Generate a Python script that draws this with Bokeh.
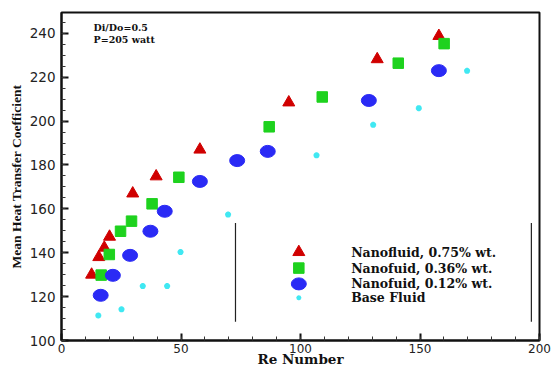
from bokeh.plotting import figure
from bokeh.models import Range1d, FixedTicker
from bokeh.core.properties import value
from bokeh.embed import file_html
from bokeh.resources import INLINE

# Data
re_075 = [12.6, 15.6, 17.9, 20.1, 29.8, 39.6, 57.9, 95.1, 132.1, 157.9]
h_075 = [130.0, 138.0, 142.3, 147.3, 167.0, 174.8, 187.0, 208.5, 228.2, 238.8]

re_036 = [16.6, 20.0, 24.7, 29.3, 37.9, 49.1, 86.9, 109.1, 140.9, 160.1]
h_036 = [129.8, 139.2, 149.8, 154.4, 162.3, 174.4, 197.4, 211.0, 226.4, 235.3]

re_012 = [16.4, 21.5, 28.7, 37.2, 43.2, 57.9, 73.5, 86.3, 128.6, 157.9]
h_012 = [120.6, 129.7, 138.8, 149.8, 158.9, 172.5, 182.0, 186.2, 209.4, 223.0]

re_base = [15.4, 25.1, 34.0, 44.2, 49.8, 69.7, 106.7, 130.4, 149.5, 169.7]
h_base = [111.4, 114.2, 124.8, 124.8, 140.3, 157.4, 184.4, 198.3, 205.9, 222.9]

series_labels = ["Nanofluid, 0.75% wt.", "Nanofuid, 0.36% wt.", "Nanofuid, 0.12% wt.", "Base Fluid"]
x_ticks = [0, 50, 100, 150, 200]
y_ticks = [100, 120, 140, 160, 180, 200, 220, 240]

# legend placement (data units)
leg_x = 99.3
leg_text_x = 121.2
leg_y = [140.3, 133.0, 125.8, 119.5]
leg_frame_x = [72.8, 196.6]
leg_frame_y0 = 108.5
leg_frame_y1 = 153.6

RED = "#d00000"
GREEN = "#1ed21e"
BLUE = "#2a2af5"
CYAN = "#40e8f2"

p = figure(width=555, height=369, output_backend="svg", toolbar_location=None,
           x_range=Range1d(0, 200), y_range=Range1d(100, 249.5),
           min_border_left=61, min_border_right=16, min_border_top=12, min_border_bottom=28)
p.background_fill_color = "white"
p.border_fill_color = "white"
p.outline_line_color = "#111111"
p.outline_line_width = 2
p.xgrid.visible = False
p.ygrid.visible = False

for ax in (p.xaxis[0], p.yaxis[0]):
    ax.axis_line_width = 2
    ax.axis_line_color = "#111111"
    ax.major_tick_in = 7
    ax.major_tick_out = 0
    ax.minor_tick_in = 4
    ax.minor_tick_out = 0
    ax.major_tick_line_color = "#111111"
    ax.minor_tick_line_color = "#333333"
    ax.major_tick_line_width = 2
    ax.major_label_text_font = "DejaVu Sans"
    ax.major_label_text_color = "#222222"
    ax.axis_label_text_font = "DejaVu Serif"
    ax.axis_label_text_font_style = "bold"
    ax.axis_label_text_color = "#111111"

p.xaxis.major_label_text_font_size = "12px"
p.yaxis.major_label_text_font_size = "13.5px"
p.xaxis.axis_label_text_font_size = "13.5px"
p.yaxis.axis_label_text_font = "Liberation Serif"
p.yaxis.axis_label_text_font_size = "13.5px"

p.xaxis.ticker = FixedTicker(ticks=x_ticks, minor_ticks=list(range(0, 201, 10)))
p.yaxis.ticker = FixedTicker(ticks=y_ticks, minor_ticks=list(range(100, 251, 5)))
p.xaxis.axis_label = "Re Number"
p.yaxis.axis_label = "Mean Heat Transfer Coefficient"
p.xaxis.major_label_standoff = 3
p.xaxis.axis_label_standoff = -5
p.yaxis.major_label_standoff = 6
p.yaxis.axis_label_standoff = 3

# data
p.scatter(re_075, h_075, marker="triangle", size=12, fill_color=RED, line_color=RED)
p.scatter(re_036, h_036, marker="square", size=10.5, fill_color=GREEN, line_color=GREEN)
p.ellipse(re_012, h_012, width=15, height=12, width_units="screen", height_units="screen",
          fill_color=BLUE, line_color=BLUE)
p.scatter(re_base, h_base, marker="asterisk", size=6, line_color=CYAN, line_width=2)

# legend
p.scatter([leg_x], [leg_y[0]], marker="triangle", size=12, fill_color=RED, line_color=RED)
p.scatter([leg_x], [leg_y[1]], marker="square", size=10.5, fill_color=GREEN, line_color=GREEN)
p.ellipse([leg_x], [leg_y[2]], width=15, height=12, width_units="screen", height_units="screen",
          fill_color=BLUE, line_color=BLUE)
p.scatter([leg_x], [leg_y[3]], marker="asterisk", size=5, line_color=CYAN, line_width=1.5)
p.text([leg_text_x] * 4, leg_y, text=series_labels, text_font=value("DejaVu Serif"),
       text_font_style="bold", text_font_size="12.5px", text_baseline="middle", text_color="#111111")
p.segment(leg_frame_x, [leg_frame_y0] * 2, leg_frame_x, [leg_frame_y1] * 2,
          line_color="#222222", line_width=1.2)

# annotation
p.text([13.4, 13.4], [242.6, 237.2], text=["Di/Do=0.5", "P=205 watt"],
       text_font=value("DejaVu Serif"), text_font_style="bold", text_font_size="9.5px",
       text_baseline="middle", text_color="#111111")

open("out.html", "w").write(file_html(p, INLINE))
